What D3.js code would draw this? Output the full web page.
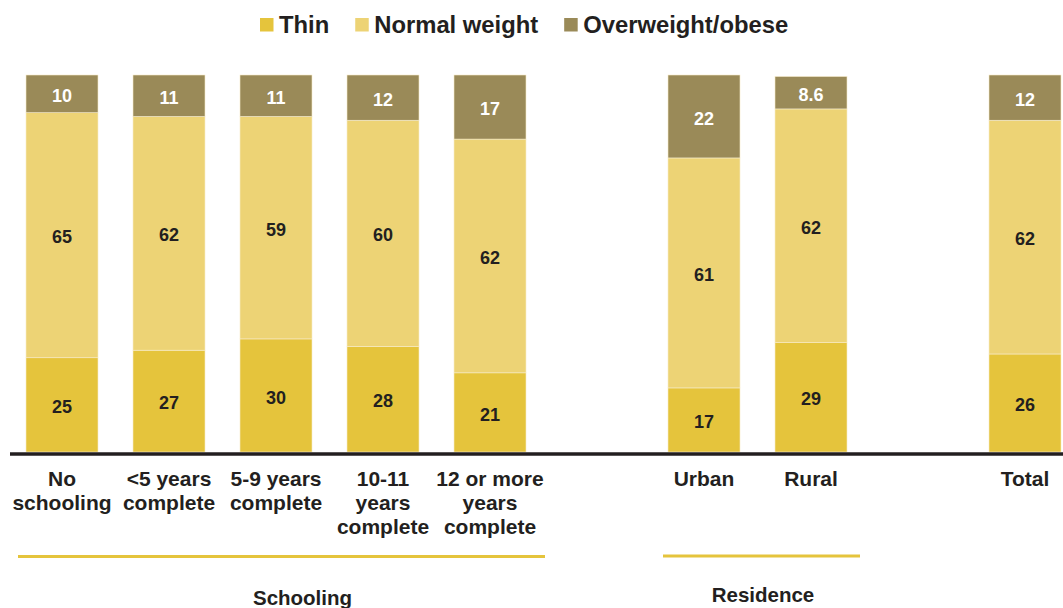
<!DOCTYPE html>
<html>
<head>
<meta charset="utf-8">
<script src="https://cdn.jsdelivr.net/npm/d3@7"></script>
<style>
  html, body { margin: 0; padding: 0; background: #fff; }
  svg { display: block; font-family: "Liberation Sans", Arial, sans-serif; }
</style>
</head>
<body>
<svg id="chart" width="1063" height="608"></svg>
<script>
// ---- data ----
const categories = ["No schooling", "<5 years complete", "5-9 years complete", "10-11 years complete", "12 or more years complete", "Urban", "Rural", "Total"];
const categoryLines = [["No", "schooling"], ["<5 years", "complete"], ["5-9 years", "complete"], ["10-11", "years", "complete"], ["12 or more", "years", "complete"], ["Urban"], ["Rural"], ["Total"]];
const thin = [25, 27, 30, 28, 21, 17, 29, 26];
const normalWeight = [65, 62, 59, 60, 62, 61, 62, 62];
const overweight = [10, 11, 11, 12, 17, 22, 8.6, 12];
const seriesNames = ["Thin", "Normal weight", "Overweight/obese"];
const slots = ["No schooling", "<5 years complete", "5-9 years complete", "10-11 years complete", "12 or more years complete", "gap1", "Urban", "Rural", "gap2", "Total"];
const groupNames = ["Schooling", "Residence"];

// ---- styles ----
const colors = ["#E5C43C", "#EDD375", "#9A8A58"];
const labelColors = ["#231f20", "#231f20", "#ffffff"];
const textColor = "#231f20";

const svg = d3.select("#chart");

const x = d3.scaleBand().domain(slots).range([8.5, 1078.5]).paddingInner(0.327).paddingOuter(0.1635);
const y = d3.scaleLinear().domain([0, 100]).range([452, 75]);

const rows = categories.map((c, i) => ({ cat: c, Thin: thin[i], "Normal weight": normalWeight[i], "Overweight/obese": overweight[i] }));
const stack = d3.stack().keys(seriesNames)(rows);

// bars
const layers = svg.append("g").selectAll("g").data(stack).join("g")
  .attr("fill", (d, i) => colors[i]);
layers.selectAll("rect").data(d => d).join("rect")
  .attr("x", d => x(d.data.cat))
  .attr("width", x.bandwidth())
  .attr("y", d => y(d[1]))
  .attr("height", d => y(d[0]) - y(d[1]))
  .attr("stroke", "#f7eccb")
  .attr("stroke-width", 0.6);

// value labels
stack.forEach((layer, li) => {
  svg.append("g").selectAll("text").data(layer).join("text")
    .attr("x", d => x(d.data.cat) + x.bandwidth() / 2)
    .attr("y", d => (y(d[0]) + y(d[1])) / 2)
    .attr("dy", "0.45em")
    .attr("text-anchor", "middle")
    .attr("font-size", 18)
    .attr("font-weight", "bold")
    .attr("fill", labelColors[li])
    .text(d => d.data[layer.key]);
});

// axis baseline
svg.append("line")
  .attr("x1", 10).attr("x2", 1063)
  .attr("y1", 454).attr("y2", 454)
  .attr("stroke", textColor).attr("stroke-width", 3.4);

// category labels
const catG = svg.append("g").selectAll("text").data(categories).join("text")
  .attr("x", d => x(d) + x.bandwidth() / 2)
  .attr("y", 486)
  .attr("text-anchor", "middle")
  .attr("font-size", 21)
  .attr("font-weight", "bold")
  .attr("fill", textColor);
catG.each(function(d, i) {
  const t = d3.select(this);
  categoryLines[i].forEach((line, j) => {
    t.append("tspan").attr("x", x(d) + x.bandwidth() / 2).attr("dy", j === 0 ? 0 : 24).text(line);
  });
});

// group underlines and labels
const groupLineY = [556.5, 556];
const groupLineExt = [[18, 545], [663, 860]];
const groupLabelX = [302.5, 763];
const groupLabelY = [605, 602];
groupNames.forEach((g, i) => {
  svg.append("line")
    .attr("x1", groupLineExt[i][0]).attr("x2", groupLineExt[i][1])
    .attr("y1", groupLineY[i]).attr("y2", groupLineY[i])
    .attr("stroke", colors[0]).attr("stroke-width", 3);
  svg.append("text")
    .attr("x", groupLabelX[i])
    .attr("y", groupLabelY[i])
    .attr("text-anchor", "middle")
    .attr("font-size", 20.5)
    .attr("font-weight", "bold")
    .attr("fill", textColor)
    .text(g);
});

// legend
const legend = svg.append("g");
let lx = 260;
seriesNames.forEach((name, i) => {
  legend.append("rect").attr("x", lx).attr("y", 18).attr("width", 13.5).attr("height", 13.5).attr("fill", colors[i]);
  const t = legend.append("text")
    .attr("x", lx + 19).attr("y", 33)
    .attr("font-size", 23.8).attr("font-weight", "bold").attr("fill", textColor)
    .text(name);
  lx += 19 + t.node().getComputedTextLength() + 26;
});
</script>
</body>
</html>
